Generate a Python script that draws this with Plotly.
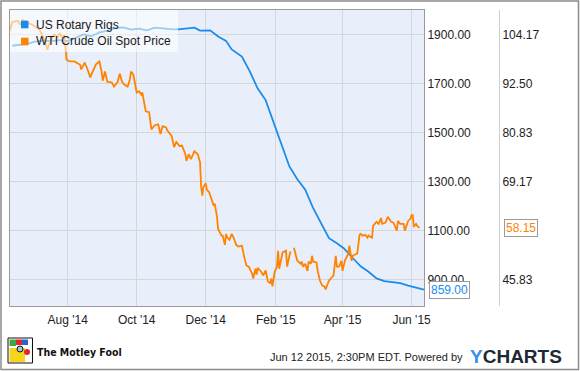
import plotly.graph_objects as go

# ---------------- data ----------------
series_names = ["US Rotary Rigs", "WTI Crude Oil Spot Price"]

rig_dates = [
    "2014-06-13", "2014-06-20", "2014-06-27", "2014-07-03", "2014-07-11", "2014-07-18",
    "2014-07-25", "2014-08-01", "2014-08-08", "2014-08-15", "2014-08-22", "2014-08-29",
    "2014-09-05", "2014-09-12", "2014-09-19", "2014-09-26", "2014-10-03", "2014-10-10",
    "2014-10-17", "2014-10-24", "2014-10-31", "2014-11-07", "2014-11-14", "2014-11-21",
    "2014-11-26", "2014-12-05", "2014-12-12", "2014-12-19", "2014-12-24", "2015-01-02",
    "2015-01-09", "2015-01-16", "2015-01-23", "2015-01-30", "2015-02-06", "2015-02-13",
    "2015-02-20", "2015-02-27", "2015-03-06", "2015-03-13", "2015-03-20", "2015-03-27",
    "2015-04-02", "2015-04-10", "2015-04-17", "2015-04-24", "2015-05-01", "2015-05-08",
    "2015-05-15", "2015-05-22", "2015-05-29", "2015-06-05", "2015-06-12",
]
rig_counts = [
    1855, 1859, 1864, 1872, 1876, 1874, 1878, 1874, 1888, 1901, 1894, 1910,
    1916, 1928, 1930, 1921, 1925, 1918, 1929, 1925, 1923, 1922, 1925, 1929,
    1917, 1918, 1893, 1875, 1840, 1811, 1750, 1680, 1633, 1543, 1456, 1362,
    1310, 1267, 1192, 1128, 1069, 1048, 1028, 988, 954, 932, 905, 894,
    888, 885, 875, 868, 859,
]

oil_dates = [
    "2014-06-11", "2014-06-13", "2014-06-18", "2014-06-20", "2014-06-22", "2014-06-27",
    "2014-07-01", "2014-07-07", "2014-07-12", "2014-07-14", "2014-07-17", "2014-07-20",
    "2014-07-23", "2014-07-25", "2014-07-27", "2014-07-29", "2014-07-31", "2014-08-03",
    "2014-08-07", "2014-08-10", "2014-08-12", "2014-08-13", "2014-08-16", "2014-08-18",
    "2014-08-21", "2014-08-22", "2014-08-26", "2014-08-29", "2014-08-31", "2014-09-01",
    "2014-09-03", "2014-09-05", "2014-09-09", "2014-09-11", "2014-09-14", "2014-09-16",
    "2014-09-18", "2014-09-20", "2014-09-23", "2014-09-25", "2014-09-26", "2014-09-28",
    "2014-09-30", "2014-10-01", "2014-10-03", "2014-10-05", "2014-10-06", "2014-10-09",
    "2014-10-12", "2014-10-14", "2014-10-17", "2014-10-20", "2014-10-22", "2014-10-24",
    "2014-10-27", "2014-10-28", "2014-11-01", "2014-11-03", "2014-11-05", "2014-11-08",
    "2014-11-10", "2014-11-12", "2014-11-13", "2014-11-14", "2014-11-16", "2014-11-18",
    "2014-11-21", "2014-11-24", "2014-11-26", "2014-11-27", "2014-11-28", "2014-11-29",
    "2014-12-01", "2014-12-02", "2014-12-04", "2014-12-07", "2014-12-08", "2014-12-09",
    "2014-12-11", "2014-12-12", "2014-12-15", "2014-12-16", "2014-12-18", "2014-12-19",
    "2014-12-20", "2014-12-22", "2014-12-24", "2014-12-26", "2014-12-28", "2014-12-30",
    "2015-01-02", "2015-01-04", "2015-01-06", "2015-01-08", "2015-01-11", "2015-01-12",
    "2015-01-14", "2015-01-15", "2015-01-16", "2015-01-19", "2015-01-21", "2015-01-23",
    "2015-01-25", "2015-01-27", "2015-01-28", "2015-01-29", "2015-01-31", "2015-02-02",
    "2015-02-03", "2015-02-04", "2015-02-07", "2015-02-10", "2015-02-11", "2015-02-13",
    "2015-02-14", "2015-02-15", "2015-02-17", "2015-02-20", "2015-02-23", "2015-02-24",
    "2015-02-25", "2015-02-27", "2015-03-01", "2015-03-02", "2015-03-04", "2015-03-05",
    "2015-03-06", "2015-03-09", "2015-03-10", "2015-03-12", "2015-03-14", "2015-03-16",
    "2015-03-17", "2015-03-18", "2015-03-20", "2015-03-23", "2015-03-24", "2015-03-26",
    "2015-03-27", "2015-03-29", "2015-03-31", "2015-04-01", "2015-04-03", "2015-04-06",
    "2015-04-07", "2015-04-09", "2015-04-10", "2015-04-12", "2015-04-14", "2015-04-16",
    "2015-04-17", "2015-04-19", "2015-04-21", "2015-04-23", "2015-04-24", "2015-04-27",
    "2015-04-28", "2015-05-01", "2015-05-03", "2015-05-05", "2015-05-06", "2015-05-09",
    "2015-05-11", "2015-05-14", "2015-05-16", "2015-05-19", "2015-05-20", "2015-05-22",
    "2015-05-25", "2015-05-26", "2015-05-29", "2015-05-31", "2015-06-01", "2015-06-02",
    "2015-06-03", "2015-06-05", "2015-06-06", "2015-06-08",
]
oil_prices = [
    105.1, 107.2, 107.5, 106.5, 107.7, 107.0,
    106.5, 105.4, 102.7, 100.6, 103.0, 104.2,
    103.5, 104.6, 103.5, 104.0, 98.2, 97.8,
    97.8, 97.3, 97.0, 95.9, 97.5, 96.3,
    94.0, 94.7, 97.1, 97.8, 95.4, 93.2,
    95.4, 93.0, 92.8, 91.8, 92.8, 94.9,
    93.0, 92.3, 91.8, 93.5, 95.4, 94.7,
    91.1, 90.4, 90.7, 89.9, 90.4, 85.9,
    85.7, 81.6, 82.6, 82.8, 80.5, 82.4,
    82.1, 81.4, 80.0, 77.4, 78.6, 77.6,
    77.8, 76.2, 75.7, 74.1, 75.7, 74.5,
    76.4, 75.7, 73.8, 67.9, 65.8, 67.9,
    68.8, 67.2, 66.7, 64.3, 63.4, 63.9,
    60.8, 57.9, 56.3, 56.3, 54.1, 56.7,
    55.9, 55.3, 56.7, 55.6, 54.1, 53.7,
    53.9, 51.3, 49.2, 48.9, 47.3, 46.1,
    48.4, 47.0, 48.6, 47.7, 46.8, 48.0,
    45.4, 44.9, 46.1, 44.2, 47.7, 48.9,
    52.7, 48.4, 52.3, 52.7, 48.9, 51.5,
    52.5, None, 53.4, 50.3, 49.6, 50.1,
    48.9, 49.6, 47.9, 50.1, 49.6, 51.5,
    50.1, 49.9, 47.9, 45.6, 44.4, 44.2,
    43.5, 44.4, 45.6, 46.5, 46.8, 51.5,
    48.9, 48.9, 50.3, 47.9, 50.3, 52.0,
    53.9, 50.3, 51.5, 51.8, 52.0, 56.5,
    56.7, 56.3, 56.5, 55.8, 56.3, 55.8,
    58.6, 59.6, 59.1, 60.5, 59.1, 59.4,
    60.8, 59.6, 59.4, 57.5, 59.8, 59.1,
    59.1, 57.5, 59.8, 60.3, 61.2, 61.2,
    58.4, 59.1, 58.6, 58.15,
]

rig_ticks = [900, 1100, 1300, 1500, 1700, 1900]
oil_ticks = [45.83, 69.17, 80.83, 92.50, 104.17]
month_ticks = ["2014-08-01", "2014-10-01", "2014-12-01", "2015-02-01", "2015-04-01", "2015-06-01"]
rig_range = [792, 2001]
oil_range = [39.53, 110.06]
x_range = ["2014-06-11", "2015-06-12"]

footer_stamp = "Jun 12 2015, 2:30PM EDT. Powered by"
brand_left = "The Motley Fool"

# ---------------- style ----------------
BLUE = "#1b8ceb"
ORANGE = "#ff8300"
FONT = "Liberation Sans, Arial, sans-serif"
W, H = 580, 371
ML, MR, MT, MB = 10, 60, 10, 65
PW, PH = W - ML - MR, H - MT - MB


def fx(px):
    return (px - ML) / PW


def fy(py):
    return 1 - (py - MT) / PH


fig = go.Figure()
fig.add_trace(go.Scatter(x=rig_dates, y=rig_counts, mode="lines", name=series_names[0],
                         line=dict(color=BLUE, width=1.8), yaxis="y", showlegend=False,
                         hoverinfo="skip"))
fig.add_trace(go.Scatter(x=oil_dates, y=oil_prices, mode="lines", name=series_names[1],
                         line=dict(color=ORANGE, width=1.8), yaxis="y2", showlegend=False,
                         hoverinfo="skip"))

shapes = []
annotations = []

# custom legend box (semi transparent, above the lines)
shapes.append(dict(type="rect", xref="paper", yref="paper", x0=fx(10), x1=fx(178), y0=fy(10), y1=fy(52),
                   fillcolor="rgba(255,255,255,0.55)", line=dict(width=0), layer="above"))
for i, (name, col) in enumerate(zip(series_names, [BLUE, ORANGE])):
    cy = 24.5 + i * 17
    shapes.append(dict(type="rect", xref="paper", yref="paper", x0=fx(21), x1=fx(28.5),
                       y0=fy(cy - 3.8), y1=fy(cy + 3.8), fillcolor=col, line=dict(width=0), layer="above"))
    annotations.append(dict(text=name, xref="paper", yref="paper", x=fx(33.5), y=fy(cy),
                            xanchor="left", yanchor="middle", showarrow=False,
                            font=dict(family=FONT, size=12, color="#1a1a1a")))

# last value callouts
annotations.append(dict(text=f"{rig_counts[-1]:.2f}", xref="paper", yref="y", x=fx(424), y=rig_counts[-1],
                        xanchor="left", yanchor="middle", xshift=5, showarrow=False,
                        font=dict(family=FONT, size=12, color=BLUE), bgcolor="white",
                        bordercolor="#9a9a9a", borderwidth=1, borderpad=1))
annotations.append(dict(text=f"{oil_prices[-1]:.2f}", xref="paper", yref="y2", x=fx(499), y=oil_prices[-1],
                        xanchor="left", yanchor="middle", xshift=5, showarrow=False,
                        font=dict(family=FONT, size=12, color=ORANGE), bgcolor="white",
                        bordercolor="#9a9a9a", borderwidth=1, borderpad=1))

# footer
annotations.append(dict(text=footer_stamp, xref="paper", yref="paper", x=fx(465), y=fy(357),
                        xanchor="right", yanchor="middle", showarrow=False,
                        font=dict(family=FONT, size=11, color="#222")))
annotations.append(dict(text="<b><span style='color:#3b8fe8'>Y</span>CHARTS</b>", xref="paper", yref="paper",
                        x=fx(468), y=fy(356.5), xanchor="left", yanchor="middle", showarrow=False,
                        font=dict(family=FONT, size=19, color="#1e2936")))
annotations.append(dict(text="<b>" + brand_left + "</b>", xref="paper", yref="paper", x=fx(35), y=fy(352),
                        xanchor="left", yanchor="middle", showarrow=False,
                        font=dict(family="DejaVu Sans Condensed, Liberation Sans, sans-serif",
                                  size=10.5, color="#111")))

# logo approximation
shapes += [
    dict(type="rect", xref="paper", yref="paper", x0=fx(8), x1=fx(32.5), y0=fy(338), y1=fy(363),
         fillcolor="white", line=dict(color="#111", width=1)),
    dict(type="rect", xref="paper", yref="paper", x0=fx(9.5), x1=fx(25), y0=fy(348), y1=fy(362),
         fillcolor="#f5d51c", line=dict(width=0)),
    dict(type="rect", xref="paper", yref="paper", x0=fx(9.5), x1=fx(16), y0=fy(339.5), y1=fy(346),
         fillcolor="#3aa845", line=dict(width=0)),
    dict(type="rect", xref="paper", yref="paper", x0=fx(16), x1=fx(22), y0=fy(339.5), y1=fy(345),
         fillcolor="#e2262b", line=dict(width=0)),
    dict(type="rect", xref="paper", yref="paper", x0=fx(22), x1=fx(28), y0=fy(339.5), y1=fy(345),
         fillcolor="#2d63c8", line=dict(width=0)),
    dict(type="circle", xref="paper", yref="paper", x0=fx(17), x1=fx(23), y0=fy(346), y1=fy(352),
         fillcolor="#9cc7ea", line=dict(color="#111", width=1)),
    dict(type="circle", xref="paper", yref="paper", x0=fx(24), x1=fx(30), y0=fy(349), y1=fy(355),
         fillcolor="#e2262b", line=dict(width=0)),
]

# outer frame
shapes.append(dict(type="rect", xref="paper", yref="paper", x0=fx(1), x1=fx(578.5), y0=fy(1), y1=fy(369.5),
                   line=dict(color="#8c8c8c", width=1.5), fillcolor="rgba(0,0,0,0)"))

fig.update_layout(
    width=W, height=H,
    margin=dict(l=ML, r=MR, t=MT, b=MB),
    paper_bgcolor="white",
    plot_bgcolor="#e9effa",
    font=dict(family=FONT, size=12, color="#222"),
    showlegend=False,
    hovermode=False,
    xaxis=dict(domain=[0, fx(424)], range=x_range, type="date", tickvals=month_ticks,
               tickformat="%b '%y", showgrid=True, gridcolor="#d6d6d6", gridwidth=1,
               showline=True, mirror=True, linecolor="#9a9a9a", linewidth=1, ticks="",
               ticklabelstandoff=3,
               zeroline=False, tickfont=dict(size=12, color="#222"), fixedrange=True),
    yaxis=dict(side="right", range=rig_range, tickvals=rig_ticks, tickformat=".2f",
               showgrid=True, gridcolor="#d6d6d6", gridwidth=1, showline=True, mirror=True,
               linecolor="#9a9a9a", linewidth=1, ticks="", zeroline=False,
               tickfont=dict(size=12, color="#222"), fixedrange=True),
    yaxis2=dict(overlaying="y", side="right", anchor="free", position=fx(499), range=oil_range,
                tickvals=oil_ticks, ticktext=[f"{v:.2f}" for v in oil_ticks], showgrid=False,
                showline=True, linecolor="#cfcfcf", linewidth=1, ticks="", zeroline=False,
                tickfont=dict(size=12, color="#222"), fixedrange=True),
    shapes=shapes,
    annotations=annotations,
)

fig.write_html("out.html", config={"displayModeBar": False, "staticPlot": True},
               post_script="document.body.style.margin='0';document.body.style.padding='0';")
